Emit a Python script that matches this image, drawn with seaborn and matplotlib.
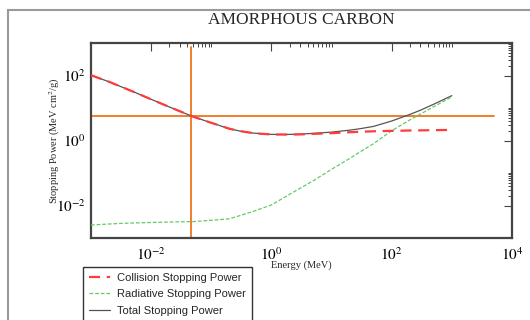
import numpy as np
import pandas as pd
import matplotlib
matplotlib.use("Agg")
import matplotlib.pyplot as plt
import matplotlib.ticker as mticker
from matplotlib.lines import Line2D
from matplotlib.patches import Rectangle
import seaborn as sns

# ---- data ----
energy_mev = [0.001, 0.002, 0.003, 0.005, 0.01, 0.02, 0.03, 0.05, 0.1, 0.2,
              0.3, 0.5, 1, 2, 3, 5, 10, 20, 30, 50, 100, 200, 300, 500, 1000]
collision = [102, 64, 47, 32, 18.5, 10.8, 7.95, 5.4, 3.5, 2.3,
             1.95, 1.68, 1.53, 1.52, 1.54, 1.6, 1.68, 1.8, 1.86, 1.92, 1.98,
             2.03, 2.05, 2.08, 2.12]
radiative = [0.0025, 0.0027, 0.0028, 0.0029, 0.0030, 0.0031, 0.00315, 0.0032,
             0.0035, 0.0039, 0.0049, 0.0066, 0.0104, 0.022, 0.034, 0.058,
             0.13, 0.28, 0.45, 0.8, 2.0, 4.3, 6.5, 11, 22]
total = [102, 64, 47, 32, 18.5, 10.8, 7.95, 5.4, 3.5, 2.3,
         1.95, 1.69, 1.54, 1.54, 1.57, 1.66, 1.81, 2.08, 2.31, 2.72, 3.98,
         6.33, 8.55, 13.1, 24]
cross_energy = 0.046
cross_power = 5.7
hline_xrange = [0.001, 5000]
vline_yrange = [0.001, 750]

series_names = ["Collision Stopping Power", "Radiative Stopping Power",
                "Total Stopping Power"]

df = pd.DataFrame({
    "Energy": energy_mev * 3,
    "Power": collision + radiative + total,
    "Series": [series_names[0]] * len(energy_mev)
              + [series_names[1]] * len(energy_mev)
              + [series_names[2]] * len(energy_mev),
})

sns.set_theme(style="white")
plt.rcParams["font.family"] = ["Liberation Serif", "DejaVu Serif"]
plt.rcParams["mathtext.fontset"] = "stix"

fig = plt.figure(figsize=(5.3, 3.2), dpi=100)
ax = fig.add_axes([91 / 530, 1 - 238 / 320, 421 / 530, 195 / 320])

# outer page frame
fig.patches.append(Rectangle((8 / 530, -0.1), 1.2, 1 - 10 / 320 + 0.1,
                             transform=fig.transFigure, fill=False,
                             edgecolor="#9a9a9a", linewidth=1.5, zorder=-5))

orange = "#f07f2a"
ax.plot([cross_energy, cross_energy], vline_yrange, color=orange, lw=1.4, zorder=1)
ax.plot(hline_xrange, [cross_power, cross_power], color=orange, lw=1.4, zorder=1)

palette = {series_names[0]: "#ff3b3b", series_names[1]: "#66c966",
           series_names[2]: "#555555"}
styles = {series_names[0]: (0, (5, 3)), series_names[1]: (0, (3, 1.5)),
          series_names[2]: "-"}
widths = {series_names[0]: 1.6, series_names[1]: 0.9, series_names[2]: 0.9}
for name in [series_names[1], series_names[0], series_names[2]]:
    sub = df[df["Series"] == name]
    sns.lineplot(data=sub, x="Energy", y="Power", ax=ax, color=palette[name],
                 linestyle=styles[name], lw=widths[name], legend=False,
                 zorder=3 if name != series_names[2] else 2)

ax.set_xscale("log")
ax.set_yscale("log")
ax.set_xlim(1e-3, 1e4)
ax.set_ylim(1e-3, 1e3)

major = [10.0 ** k for k in range(-4, 6, 2)]
minor = [m * b for b in major for m in range(2, 11)]
for axis in (ax.xaxis, ax.yaxis):
    axis.set_major_locator(mticker.FixedLocator(major))
    axis.set_minor_locator(mticker.FixedLocator(minor))
    axis.set_major_formatter(mticker.FuncFormatter(
        lambda v, p: r"$10^{%d}$" % int(round(np.log10(v)))))
    axis.set_minor_formatter(mticker.NullFormatter())

ax.tick_params(which="both", direction="in", top=True, right=True,
               colors="#444444", labelcolor="black")
ax.tick_params(which="major", length=6, width=0.8, labelsize=11, pad=6)
ax.tick_params(axis="y", which="major", pad=4)
ax.tick_params(which="minor", length=3, width=0.7)
for s in ax.spines.values():
    s.set_color("#444444")
    s.set_linewidth(1.6)

ax.set_xlabel("Energy (MeV)", fontsize=7.5, labelpad=-2)
ax.set_ylabel(r"Stopping Power (MeV cm$^2$/g)", fontsize=7.5, labelpad=10)
ax.set_title("AMORPHOUS CARBON", fontsize=12.5, pad=14)

handles = [Line2D([], [], color=palette[n], linestyle=styles[n], lw=widths[n])
           for n in series_names]
leg = fig.legend(handles, series_names, loc="upper left",
                 bbox_to_anchor=(83 / 530, 1 - 267 / 320),
                 prop={"family": "Liberation Sans", "size": 8},
                 frameon=True, fancybox=False, edgecolor="black",
                 handlelength=1.9, handletextpad=0.7, borderpad=0.5,
                 labelspacing=0.6, borderaxespad=0)
leg.get_frame().set_linewidth(1.0)

# place y label like the reference (centre at x ~ 52 px)
ax.yaxis.set_label_coords((62 - 91) / 421, 0.5)

fig.savefig("out.png", dpi=100)
